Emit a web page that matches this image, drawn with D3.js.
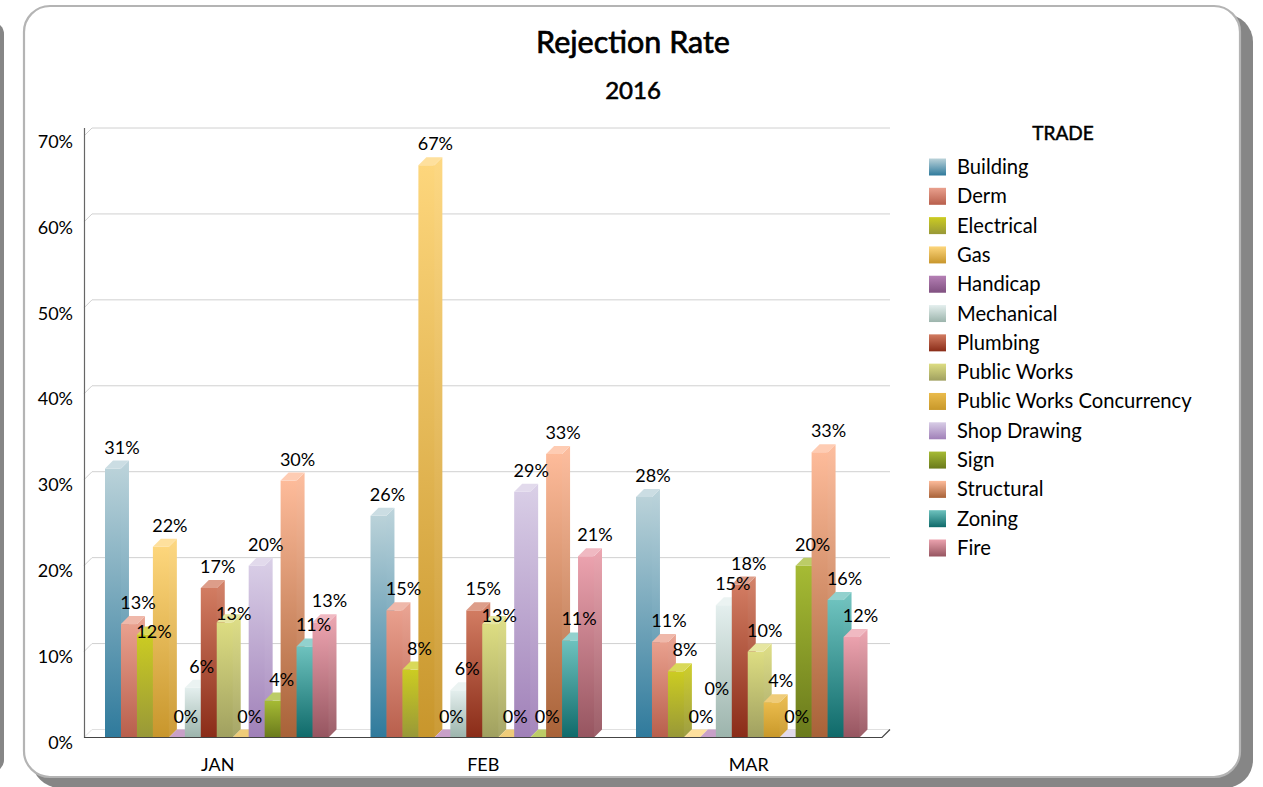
<!DOCTYPE html>
<html>
<head>
<meta charset="utf-8">
<script src="https://cdnjs.cloudflare.com/ajax/libs/d3/7.8.5/d3.min.js"></script>
<style>
html,body{margin:0;padding:0;background:#fff;overflow:hidden}
text{font-family:Lato,"Noto Sans",sans-serif;fill:#000}
</style>
</head>
<body>
<svg id="c" width="1263" height="787"></svg>
<script>
const months = ["JAN","FEB","MAR"];
const trades = ["Building","Derm","Electrical","Gas","Handicap","Mechanical","Plumbing","Public Works","Public Works Concurrency","Shop Drawing","Sign","Structural","Zoning","Fire"];
const janValues = [31.3,13.2,12,22.2,0,5.8,17.4,13.4,0,20,4.3,29.9,10.6,13.4];
const febValues = [25.8,14.8,7.9,66.6,0,5.5,14.8,13.2,0,28.6,0,33,11.3,21.1];
const marValues = [28,11.1,7.7,0,0,15.4,17.8,10,4.1,0,20,33.2,16,11.7];
const lightColors = ["#bad2d9","#e9a08e","#cccc22","#fdd67c","#b580b5","#e4efee","#d27c62","#dddd82","#eabb4c","#d8cde6","#a6bb34","#fdbb9a","#6ec2be","#eba2ae"];
const darkColors = ["#2f7a9c","#b85f4c","#989838","#c8962c","#805080","#9cb4ac","#8a2c18","#a0a060","#c8982a","#a080b8","#6a7a1c","#a86238","#0f6a6a","#965560"];
const yTicks = [0,10,20,30,40,50,60,70];

const seriesByMonth = [janValues, febValues, marValues];
const svg = d3.select("#c");
const defs = svg.append("defs");

function grad(id, top, bottom){
  const g = defs.append("linearGradient").attr("id",id).attr("x1",0).attr("y1",0).attr("x2",0).attr("y2",1);
  g.append("stop").attr("offset",0).attr("stop-color",top);
  g.append("stop").attr("offset",1).attr("stop-color",bottom);
}
trades.forEach((t,i)=>{
  grad("f"+i, lightColors[i], darkColors[i]);
  grad("s"+i, d3.interpolateRgb(lightColors[i],"#fff")(0.05), d3.interpolateRgb(darkColors[i],"#fff")(0.05));
});

// page frame
svg.append("rect").attr("x",-40).attr("y",22).attr("width",44).attr("height",750).attr("rx",12).attr("fill","#868686");
svg.append("rect").attr("x",32).attr("y",14).attr("width",1221).attr("height",774).attr("rx",28).attr("fill","#868686");
svg.append("rect").attr("x",24).attr("y",6).attr("width",1216).attr("height",771).attr("rx",26)
  .attr("fill","#fff").attr("stroke","#b4b4b4").attr("stroke-width",2.2);

const depth = 8;
const x0 = d3.scaleBand().domain(months).range([84,880.5]);
const groupPad = 21;
const x1 = d3.scaleBand().domain(trades).range([groupPad, x0.bandwidth()-groupPad]);
const y = d3.scaleLinear().domain([0,70]).range([737.5,136]);

// grid
const grid = svg.append("g");
yTicks.forEach(t=>{
  const yy = y(t);
  const c = t===0 ? "#e0e0e0" : "#d0d0d0";
  grid.append("path").attr("fill","none").attr("stroke",c).attr("stroke-width",1)
    .attr("d",`M${84},${yy}L${84+depth},${yy-depth}L${882+depth},${yy-depth}`);
});

// axes
const yAxis = d3.axisLeft(y).tickValues(yTicks).tickSize(0).tickPadding(11).tickFormat(d=>d+"%");
const yg = svg.append("g").attr("transform","translate(84,0)").call(yAxis);
yg.select(".domain").remove();
yg.selectAll("text").attr("dy","0.62em").style("font-size","18px").attr("y",0);
svg.append("line").attr("x1",84.5).attr("x2",84.5).attr("y1",128).attr("y2",737.5).attr("stroke","#666").attr("stroke-width",1.2);

const xAxis = d3.axisBottom(x0).tickSize(0).tickPadding(21);
const xg = svg.append("g").attr("transform","translate(1,737.5)").call(xAxis);
xg.select(".domain").remove();
xg.selectAll("text").style("font-size","18px");

// bars
const marks = svg.append("g");
months.forEach((m,mi)=>{
  const g = marks.append("g").attr("transform",`translate(${x0(m)},0)`);
  trades.forEach((t,i)=>{
    const v = seriesByMonth[mi][i];
    const xl = x1(t), w = x1.bandwidth(), top = y(v), base = y(0);
    if(v>0){
      g.append("path").attr("d",`M${xl+w-1},${top}L${xl+w},${top}L${xl+w+depth},${top-depth}L${xl+w+depth},${base-depth}L${xl+w},${base}L${xl+w-1},${base}Z`).attr("fill",`url(#s${i})`);
      g.append("rect").attr("x",xl).attr("y",top).attr("width",w).attr("height",base-top).attr("fill",`url(#f${i})`);
    }
    const tc = d3.interpolateRgb(lightColors[i],"#fff")(0.25);
    g.append("path").attr("d",`M${xl},${top}L${xl+depth},${top-depth}L${xl+w+depth},${top-depth}L${xl+w},${top}Z`).attr("fill",tc);
  });
});

// base line
svg.append("path").attr("fill","none").attr("stroke","#444").attr("stroke-width",1.2)
  .attr("d",`M84,${y(0)}L882,${y(0)}L${882+depth},${y(0)-depth}`);

// value labels; a few are pushed aside by the chart's own collision avoidance
const labelNudge = {"JAN|Electrical":19,"JAN|Public Works":13,"FEB|Public Works":13,"MAR|Handicap":-28};
const labels = svg.append("g");
months.forEach((m,mi)=>{
  trades.forEach((t,i)=>{
    const v = seriesByMonth[mi][i];
    labels.append("text")
      .attr("x",x0(m)+x1(t)+x1.bandwidth()/2+depth+1)
      .attr("y",y(v)-depth-7+(labelNudge[m+"|"+t]||0))
      .attr("text-anchor","middle")
      .style("font-size","18px")
      .text(Math.round(v)+"%");
  });
});

// titles
svg.append("text").attr("x",633).attr("y",53).attr("text-anchor","middle")
  .style("font-size","30.5px").attr("stroke","#000").attr("stroke-width",0.7).text("Rejection Rate");
svg.append("text").attr("x",633).attr("y",99).attr("text-anchor","middle")
  .style("font-size","24px").attr("stroke","#000").attr("stroke-width",0.6).text("2016");

// legend
svg.append("text").attr("x",1063).attr("y",140).attr("text-anchor","middle")
  .style("font-size","19px").attr("stroke","#000").attr("stroke-width",0.5).text("TRADE");
const ly = d3.scalePoint().domain(trades).range([167,548]);
trades.forEach((t,i)=>{
  svg.append("rect").attr("x",929).attr("y",ly(t)-8.5).attr("width",17).attr("height",17).attr("fill",`url(#f${i})`);
  svg.append("text").attr("x",957).attr("y",ly(t)+7).style("font-size","20.2px").text(t);
});
</script>
</body>
</html>
